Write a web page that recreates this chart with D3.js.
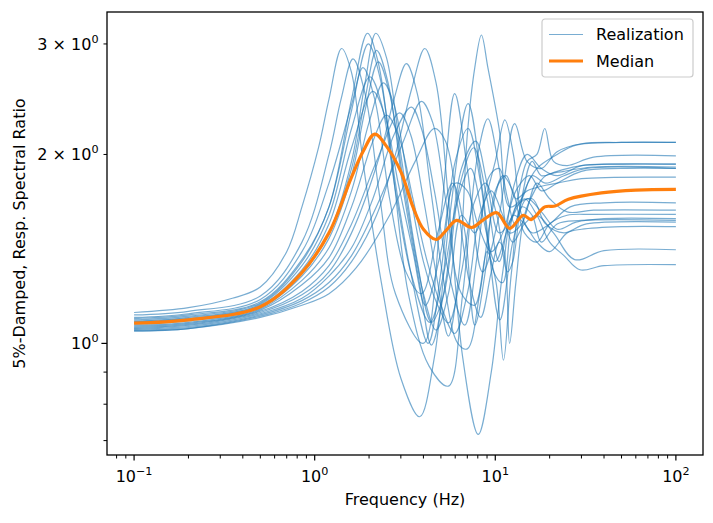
<!DOCTYPE html>
<html>
<head>
<meta charset="UTF-8">
<script src="https://d3js.org/d3.v7.min.js"></script>
<style>
  body { margin: 0; background: #fff; }
  text { font-family: "DejaVu Sans", sans-serif; fill: #000; }
</style>
</head>
<body>
<svg id="chart" width="713" height="523"></svg>
<script>
// each realization: [frequency (Hz), ratio]
var realizations = [
  [[0.1,1.12],[0.2,1.14],[0.35,1.18],[0.5,1.23],[0.7,1.4],[0.85,1.65],[1.05,2.05],[1.2,2.45],[1.41,2.95],[1.6,2.7],[1.85,1.95],[2.34,1.25],[3.0,0.88],[3.81,0.764],[4.6,0.95],[5.6,1.6],[7.07,2.41],[8.5,1.75],[10.6,1.09],[12.5,1.45],[15,1.7],[18,1.62],[22,1.52],[28,1.56],[40,1.58],[100,1.58]],
  [[0.1,1.11],[0.2,1.125],[0.5,1.19],[0.85,1.45],[1.2,2.0],[1.4,2.45],[1.63,2.84],[1.9,2.5],[2.3,1.7],[2.8,1.2],[3.99,1.0],[5.0,1.6],[5.96,2.5],[7.0,1.9],[8.5,1.3],[10.5,1.6],[12.8,2.24],[15,1.95],[18,1.9],[22,2.02],[30,2.08],[50,2.09],[100,2.09]],
  [[0.1,1.10],[0.2,1.115],[0.5,1.175],[0.85,1.4],[1.2,1.8],[1.6,2.4],[1.85,2.75],[2.15,2.45],[2.6,1.7],[3.2,1.3],[3.9,1.2],[4.8,1.5],[5.8,1.8],[6.8,1.5],[7.7,1.069],[8.8,1.3],[10,1.75],[11.5,1.85],[13,1.7],[15,1.75],[18,1.78],[22,1.8],[30,1.83],[100,1.84]],
  [[0.1,1.095],[0.2,1.11],[0.5,1.165],[0.85,1.36],[1.2,1.65],[1.6,2.45],[1.96,3.12],[2.25,2.8],[2.7,1.9],[3.3,1.2],[4.3,0.92],[5.5,0.855],[6.6,1.2],[8.0,2.0],[9.1,2.28],[10.5,1.9],[12,1.5],[14,1.55],[17,1.8],[20,1.7],[25,1.62],[35,1.63],[100,1.63]],
  [[0.1,1.09],[0.2,1.105],[0.5,1.16],[0.85,1.35],[1.2,1.65],[1.6,2.35],[1.98,3.0],[2.3,2.65],[2.8,1.8],[3.4,1.3],[4.25,1.0],[5.0,1.3],[6.0,1.95],[7.07,2.2],[8.3,1.8],[9.8,1.3],[11,1.25],[13,1.65],[16,1.7],[19,1.55],[24,1.5],[32,1.55],[100,1.56]],
  [[0.1,1.085],[0.2,1.1],[0.5,1.155],[0.85,1.33],[1.2,1.6],[1.6,2.2],[2.02,2.66],[2.35,2.4],[2.8,1.75],[3.4,1.3],[4.34,1.08],[5.2,1.3],[6.2,1.7],[7.3,1.9],[8.5,1.6],[10,1.35],[12,1.55],[14.5,1.7],[17,1.6],[20,1.45],[24,1.38],[29.4,1.31],[40,1.33],[100,1.335]],
  [[0.1,1.082],[0.2,1.096],[0.5,1.15],[0.85,1.31],[1.2,1.55],[1.6,2.05],[2.1,2.52],[2.45,2.3],[2.9,1.8],[3.5,1.4],[4.1,1.15],[5.0,1.4],[6.0,1.8],[7.0,1.75],[8,1.55],[9.5,1.4],[11,1.5],[13,1.75],[15.5,1.85],[18,1.75],[22,1.8],[30,1.88],[50,1.9],[100,1.9]],
  [[0.1,1.079],[0.2,1.092],[0.5,1.145],[0.85,1.3],[1.2,1.5],[1.6,1.95],[1.9,2.6],[2.18,3.12],[2.5,2.85],[3.0,2.0],[3.7,1.35],[4.43,1.08],[5.2,1.2],[6.4,1.8],[7.6,2.05],[9,1.7],[10.5,1.35],[12.8,1.8],[15,2.0],[18,1.9],[22,1.85],[30,1.92],[50,1.93],[100,1.93]],
  [[0.1,1.076],[0.2,1.089],[0.5,1.143],[0.85,1.29],[1.2,1.5],[1.6,1.9],[1.9,2.45],[2.2,2.93],[2.55,2.6],[3.1,1.75],[3.8,1.25],[4.43,0.994],[5.3,1.25],[6.5,1.9],[7.8,2.1],[9,1.8],[10.5,1.5],[12.5,1.6],[15,1.95],[17,2.0],[18.8,2.2],[21,1.95],[25,1.92],[35,1.98],[100,1.99]],
  [[0.1,1.073],[0.2,1.086],[0.5,1.14],[0.85,1.28],[1.2,1.47],[1.6,1.85],[1.9,2.35],[2.25,2.81],[2.6,2.5],[3.2,1.7],[4.0,1.2],[4.7,1.05],[5.5,1.2],[6.5,1.6],[7.7,1.5],[8.8,1.7],[10,1.95],[11.3,2.27],[12.6,2.0],[14,1.6],[16,1.5],[20,1.55],[26,1.65],[40,1.675],[100,1.675]],
  [[0.1,1.068],[0.2,1.08],[0.5,1.135],[0.85,1.26],[1.2,1.42],[1.6,1.75],[2.0,2.25],[2.4,2.6],[2.75,2.4],[3.3,1.8],[4.0,1.35],[4.8,1.15],[5.5,1.078],[6.5,1.3],[7.5,1.65],[8.8,1.8],[10.2,1.6],[11.7,1.3],[12.5,1.35],[14,1.7],[16,1.95],[18,1.85],[22,1.88],[30,1.92],[100,1.93]],
  [[0.1,1.064],[0.2,1.076],[0.5,1.13],[0.85,1.24],[1.2,1.37],[1.6,1.65],[2.1,2.1],[2.5,2.31],[2.9,2.15],[3.5,1.7],[4.2,1.35],[5.0,1.15],[5.96,1.037],[7,1.2],[8.2,1.6],[9.5,1.75],[11,1.6],[12.5,1.45],[14.5,1.55],[17,1.6],[21,1.5],[27.5,1.36],[40,1.405],[100,1.41]],
  [[0.1,1.06],[0.2,1.072],[0.5,1.125],[0.85,1.21],[1.2,1.33],[1.6,1.55],[2.2,1.95],[2.95,2.33],[3.4,2.15],[4.0,1.7],[4.8,1.25],[5.5,1.027],[6.3,1.3],[7.0,2.15],[7.7,2.75],[8.38,3.1],[9.1,2.75],[10.5,2.2],[12,1.65],[14,1.7],[16,1.85],[19,1.8],[24,1.85],[32,1.9],[100,1.9]],
  [[0.1,1.057],[0.2,1.068],[0.5,1.12],[0.85,1.195],[1.2,1.3],[1.6,1.5],[2.3,2.0],[2.75,2.45],[3.22,2.79],[3.7,2.5],[4.4,1.75],[5.2,1.25],[6.2,1.0],[7.0,0.98],[8.2,1.2],[9.5,1.6],[11,1.85],[12.5,1.75],[14.5,1.5],[17,1.45],[20,1.55],[25,1.6],[35,1.605],[100,1.605]],
  [[0.1,1.054],[0.2,1.064],[0.5,1.115],[0.85,1.18],[1.2,1.28],[1.6,1.42],[2.1,1.7],[2.75,2.15],[3.43,2.38],[3.9,2.2],[4.6,1.75],[5.5,1.3],[6.77,1.069],[8.0,1.4],[9.3,1.85],[10.5,1.9],[11.7,1.7],[12.8,1.55],[14.5,1.75],[17,1.9],[22,2.0],[28,2.07],[50,2.09],[100,2.09]],
  [[0.1,1.051],[0.2,1.06],[0.5,1.11],[0.85,1.17],[1.2,1.25],[1.6,1.38],[2.3,1.7],[3.1,2.1],[3.9,2.43],[4.5,2.25],[5.3,1.7],[6.5,1.2],[7.7,1.15],[9.0,1.4],[10.1,1.25],[11.1,0.94],[12.3,1.3],[14,1.65],[16,1.6],[18,1.45],[22,1.55],[30,1.57],[100,1.57]],
  [[0.1,1.048],[0.2,1.056],[0.5,1.105],[0.85,1.16],[1.2,1.23],[1.6,1.35],[2.2,1.6],[2.8,2.0],[3.45,2.55],[4.07,2.95],[4.7,2.6],[5.5,1.7],[6.6,0.95],[8.05,0.716],[9.5,0.9],[11,1.3],[12.6,1.6],[14.5,1.55],[17,1.45],[20,1.4],[25,1.5],[30,1.52],[50,1.535],[100,1.535]],
  [[0.1,1.046],[0.2,1.056],[0.5,1.10],[0.85,1.15],[1.2,1.2],[1.7,1.32],[2.6,1.6],[3.6,1.95],[4.6,2.2],[5.3,2.1],[6.2,1.65],[7.2,1.25],[8.3,1.1],[9.5,1.3],[10.5,1.45],[11.2,1.4],[12.0,1.0],[13,1.25],[14.5,1.6],[16.5,1.75],[19,1.85],[24,1.88],[35,1.91],[100,1.91]]
];

var median = [[0.1,1.077],[0.2,1.09],[0.5,1.144],[0.84,1.292],[1.2,1.5],[1.6,1.84],[1.85,2.02],[2.15,2.155],[2.5,2.06],[3.02,1.87],[3.5,1.65],[4.0,1.52],[4.7,1.464],[5.3,1.51],[6.1,1.57],[7.4,1.53],[8.5,1.57],[10.2,1.615],[12,1.525],[14.3,1.6],[15.8,1.575],[18.8,1.65],[21.4,1.655],[25.4,1.697],[38.7,1.737],[60,1.755],[100,1.759]];

var xMajor = [0.1, 1, 10, 100];
var xMajorExp = ["\u22121", "0", "1", "2"];
var yLabelled = [1, 2, 3];
var yLabelPrefix = ["", "2 \u00d7 ", "3 \u00d7 "];
var legendNames = ["Realization", "Median"];

var blue = "#1f77b4", orange = "#ff7f0e";
var W = 713, H = 523;
var margin = {left: 107, right: 10, top: 12, bottom: 68};
var pw = W - margin.left - margin.right, ph = H - margin.top - margin.bottom;

var svg = d3.select("#chart");
var g = svg.append("g").attr("transform", "translate(" + margin.left + "," + margin.top + ")");

var x = d3.scaleLog().domain([0.0708, 141.3]).range([0, pw]);
var y = d3.scaleLog().domain([0.664, 3.373]).range([ph, 0]);

var line = d3.line()
  .x(function(d) { return x(d[0]); })
  .y(function(d) { return y(d[1]); })
  .curve(d3.curveCatmullRom.alpha(0.5));

g.selectAll(".real")
  .data(realizations)
  .enter().append("path")
  .attr("class", "real")
  .attr("d", line)
  .attr("fill", "none")
  .attr("stroke", blue)
  .attr("stroke-opacity", 0.6)
  .attr("stroke-width", 1.2);

g.append("path")
  .attr("d", line(median))
  .attr("fill", "none")
  .attr("stroke", orange)
  .attr("stroke-width", 3.2);

// spines
g.append("rect").attr("width", pw).attr("height", ph)
  .attr("fill", "none").attr("stroke", "#000").attr("stroke-width", 1.3);

// x ticks
var xMinor = x.ticks().filter(function(t) { return xMajor.indexOf(t) < 0 && t > 0.0708 && t < 141.3; });
g.selectAll(".xmin").data(xMinor).enter().append("line")
  .attr("x1", function(d) { return x(d); }).attr("x2", function(d) { return x(d); })
  .attr("y1", ph).attr("y2", ph + 3.5).attr("stroke", "#000").attr("stroke-width", 1);
g.selectAll(".xmaj").data(xMajor).enter().append("line")
  .attr("x1", function(d) { return x(d); }).attr("x2", function(d) { return x(d); })
  .attr("y1", ph).attr("y2", ph + 5.6).attr("stroke", "#000").attr("stroke-width", 1.2);
var xl = g.selectAll(".xlab").data(xMajor).enter().append("text")
  .attr("x", function(d) { return x(d); })
  .attr("y", ph + 27)
  .attr("text-anchor", "middle")
  .style("font-size", "16px");
xl.append("tspan").text("10");
xl.append("tspan").attr("dy", -7).style("font-size", "11.2px").text(function(d, i) { return xMajorExp[i]; });

// y ticks
var yMinor = y.ticks().filter(function(t) { return t !== 1; });
g.selectAll(".ymin").data(yMinor).enter().append("line")
  .attr("x1", -3.5).attr("x2", 0)
  .attr("y1", function(d) { return y(d); }).attr("y2", function(d) { return y(d); })
  .attr("stroke", "#000").attr("stroke-width", 1);
g.append("line").attr("x1", -5.6).attr("x2", 0).attr("y1", y(1)).attr("y2", y(1))
  .attr("stroke", "#000").attr("stroke-width", 1.2);
var yl = g.selectAll(".ylab").data(yLabelled).enter().append("text")
  .attr("x", -8.5)
  .attr("y", function(d) { return y(d) + 6; })
  .attr("text-anchor", "end")
  .style("font-size", "16px")
  .style("white-space", "pre");
yl.append("tspan").text(function(d, i) { return yLabelPrefix[i] + "10"; });
yl.append("tspan").attr("dy", -7).style("font-size", "11.2px").text("0");

// axis labels
g.append("text").attr("x", pw / 2).attr("y", ph + 50)
  .attr("text-anchor", "middle").style("font-size", "16px").text("Frequency (Hz)");
svg.append("text")
  .attr("transform", "translate(25," + (margin.top + ph / 2) + ") rotate(-90)")
  .attr("text-anchor", "middle").style("font-size", "16px")
  .text("5%-Damped, Resp. Spectral Ratio");

// legend
var lg = svg.append("g").attr("transform", "translate(542,19)");
lg.append("rect").attr("width", 151).attr("height", 58).attr("rx", 3)
  .attr("fill", "#fff").attr("fill-opacity", 0.8)
  .attr("stroke", "#cccccc").attr("stroke-width", 1.2);
legendNames.forEach(function(name, i) {
  var yy = 15.5 + i * 26.5;
  lg.append("line").attr("x1", 7).attr("x2", 41).attr("y1", yy).attr("y2", yy)
    .attr("stroke", i === 0 ? blue : orange)
    .attr("stroke-opacity", i === 0 ? 0.6 : 1)
    .attr("stroke-width", i === 0 ? 1.2 : 3.2);
  lg.append("text").attr("x", 54).attr("y", yy + 5.8).style("font-size", "16px").text(name);
});
</script>
</body>
</html>
